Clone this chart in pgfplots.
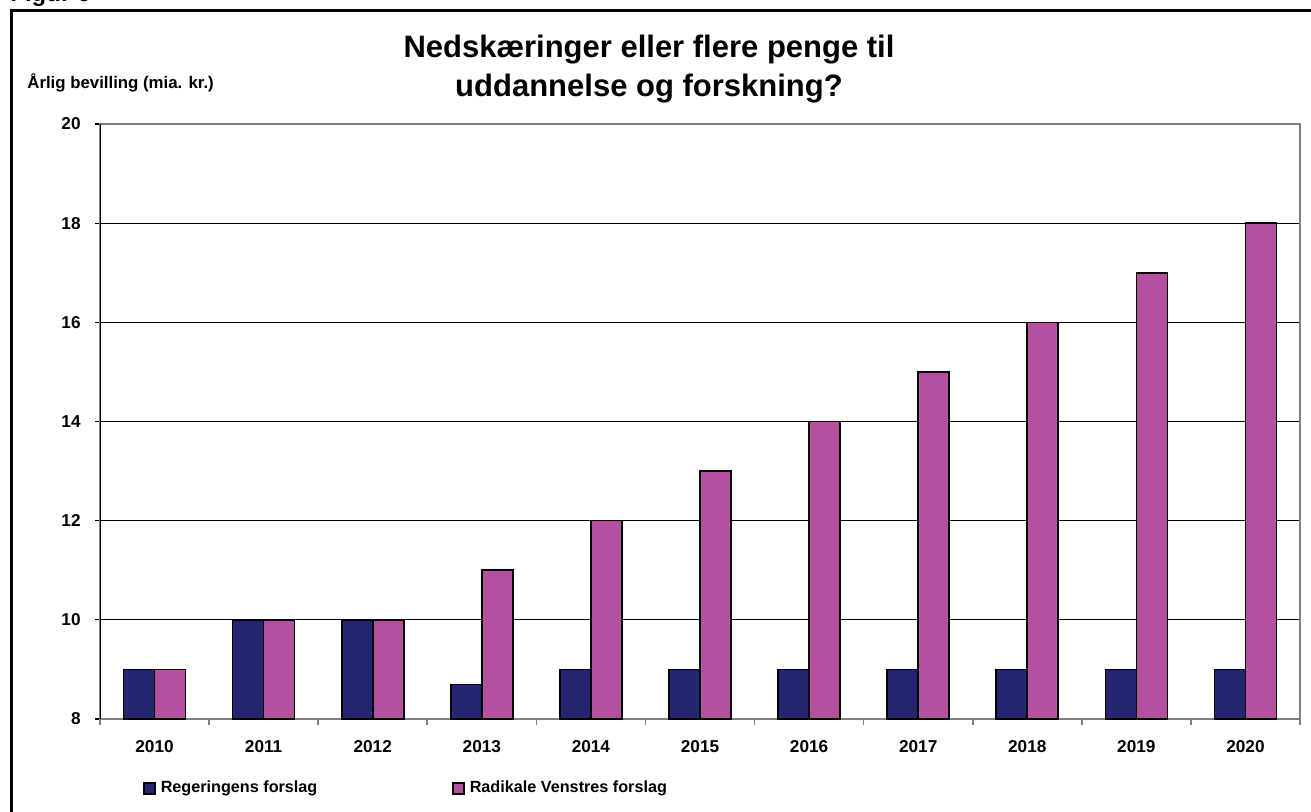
\documentclass[border=0pt]{standalone}
\usepackage{pgfplots}
\pgfplotsset{compat=1.18}
\usepackage{fontspec}
\setmainfont{Liberation Sans}
\definecolor{gov}{RGB}{38,38,112}
\definecolor{rv}{RGB}{180,80,160}
\definecolor{bordergray}{RGB}{128,128,128}
\begin{document}
\begin{tikzpicture}[x=0.5pt,y=0.5pt]
\useasboundingbox (0,0) rectangle (1311,811);
\draw[line width=1.5pt] (11,-20) -- (11,800) -- (1340,800);
\node[anchor=base west, font=\bfseries\fontsize{12}{14}\selectfont, inner sep=0pt] at (10,809) {Figur 6};
\node[anchor=base, font=\bfseries\fontsize{15.5}{18}\selectfont, inner sep=0pt] at (649,754) {Nedskæringer eller flere penge til};
\node[anchor=base, font=\bfseries\fontsize{15.5}{18}\selectfont, inner sep=0pt] at (649,715) {uddannelse og forskning?};
\node[anchor=base west, font=\bfseries\fontsize{8.4}{10}\selectfont, inner sep=0pt] at (27,723) {Årlig bevilling (mia. kr.)};
\begin{axis}[
  at={(50pt,46pt)}, anchor=south west,
  scale only axis, width=600pt, height=297.5pt,
  ybar=0pt, bar width=15.5pt,
  xmin=-0.5, xmax=10.5, ymin=8, ymax=20,
  xtick={0,...,10},
  xticklabels={2010,2011,2012,2013,2014,2015,2016,2017,2018,2019,2020},
  minor xtick={-0.5,0.5,...,10.5},
  ytick={8,10,...,20},
  /pgf/number format/assume math mode=true,
  xtick pos=bottom, ytick pos=left,
  tick align=outside,
  major tick length=2.5pt, minor tick length=3pt,
  xtick style={draw=none},
  minor x tick style={draw=bordergray, line width=0.8pt},
  ytick style={draw=black, line width=0.6pt},
  ymajorgrids, grid style={black, line width=0.5pt},
  axis line style={draw=bordergray, line width=1pt},
  tick label style={font=\bfseries\fontsize{8.6}{10}\selectfont},
  xticklabel style={anchor=north, inner sep=0pt, yshift=-8pt},
  yticklabel style={anchor=east, inner sep=0pt, xshift=-7pt},
  legend columns=2,
  legend cell align=left,
  legend style={at={(0.0358,-0.1168)}, anchor=west, draw=none, inner sep=0pt,
    font=\bfseries\fontsize{8.1}{10}\selectfont,
    nodes={inner sep=0pt},
    /tikz/every odd column/.append style={column sep=2.5pt},
    /tikz/every even column/.append style={column sep=67.5pt}},
  legend image code/.code={\draw[#1, draw=black, line width=0.7pt] (0pt,-2.75pt) rectangle (5.5pt,2.75pt);},
]
\addplot[fill=gov, draw=black, line width=0.8pt] coordinates {
  (0,9) (1,10) (2,10) (3,8.7) (4,9) (5,9) (6,9) (7,9) (8,9) (9,9) (10,9)};
\addplot[fill=rv, draw=black, line width=0.8pt] coordinates {
  (0,9) (1,10) (2,10) (3,11) (4,12) (5,13) (6,14) (7,15) (8,16) (9,17) (10,18)};
\legend{Regeringens forslag, Radikale Venstres forslag}
\draw[black, line width=0.8pt] (rel axis cs:0,0) -- (rel axis cs:0,1);
\end{axis}
\end{tikzpicture}
\end{document}
